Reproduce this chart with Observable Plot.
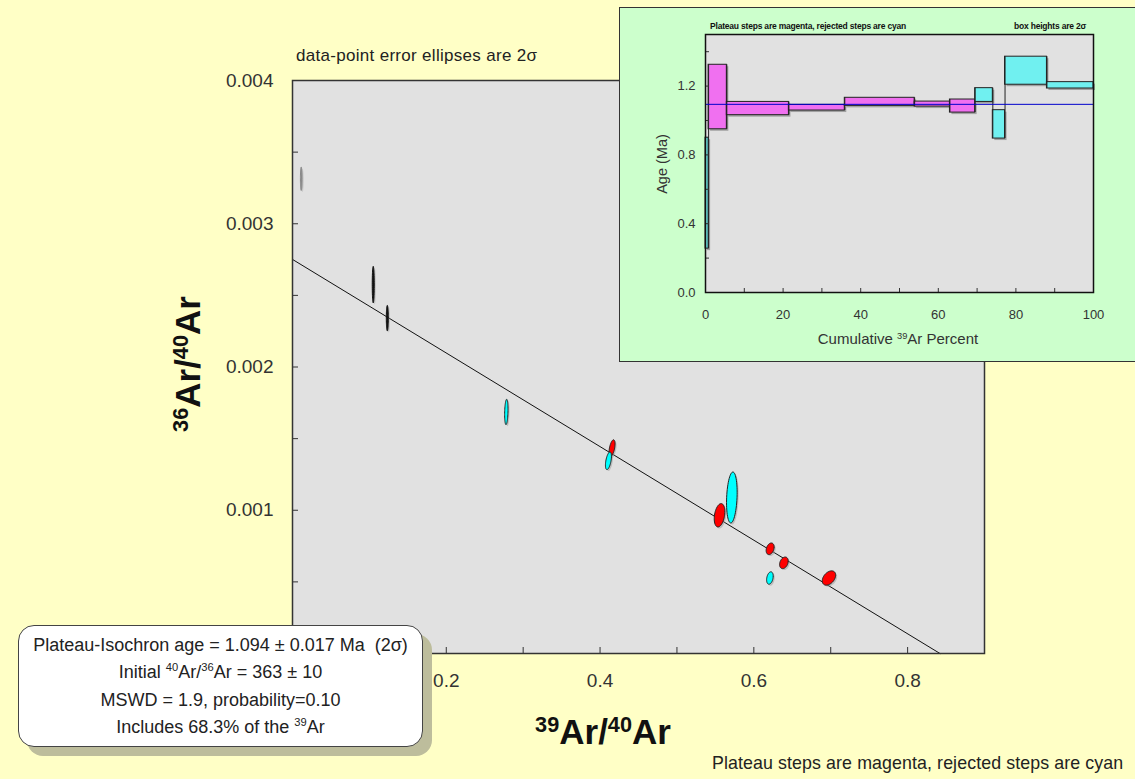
<!DOCTYPE html>
<html>
<head>
<meta charset="utf-8">
<script src="https://cdn.jsdelivr.net/npm/d3@7"></script>
<script src="https://cdn.jsdelivr.net/npm/@observablehq/plot@0.6"></script>
<style>
  html, body { margin: 0; padding: 0; }
  body { width: 1135px; height: 779px; position: relative; overflow: hidden; background: #FFFFC6; font-family: "Liberation Sans", Arial, sans-serif; color: #222; }
  .abs { position: absolute; white-space: nowrap; }
  sup { font-size: 0.62em; vertical-align: 0; position: relative; top: -0.55em; }
  #main { position: absolute; left: 0; top: 0; }
  #inset { position: absolute; left: 619px; top: 7px; width: 518px; height: 355px; background: #CCFFCC; border: 1px solid #333; box-sizing: border-box; }
  #inset .plot { position: absolute; left: 0; top: 0; }
  #box { position: absolute; left: 18px; top: 625px; width: 405px; height: 122px; background: #fff; border: 1.5px solid #444; border-radius: 16px; box-sizing: border-box; box-shadow: 9px 9px 0 #BDBD9C; text-align: center; font-size: 18px; line-height: 26.5px; padding-top: 6px; color: #222; }
</style>
</head>
<body>
<div id="main"></div>
<div id="inset"></div>
<div class="abs" style="left:296px; top:46px; font-size:17px; letter-spacing:0.3px;">data-point error ellipses are 2σ</div>
<div class="abs" style="left:188px; top:364px; transform: translate(-50%,-50%) rotate(-90deg); font-size:35px; font-weight:bold; color:#111;"><sup>36</sup>Ar/<sup>40</sup>Ar</div>
<div class="abs" style="left:603px; top:732px; transform: translate(-50%,-50%); font-size:35px; font-weight:bold; color:#111;"><sup>39</sup>Ar/<sup>40</sup>Ar</div>
<div class="abs" style="left:712px; top:753px; font-size:17.8px; letter-spacing:0.1px;">Plateau steps are magenta, rejected steps are cyan</div>
<div id="box">
  <div>Plateau-Isochron age = 1.094 ± 0.017 Ma&nbsp; (2σ)</div>
  <div>Initial <sup>40</sup>Ar/<sup>36</sup>Ar = 363 ± 10</div>
  <div>MSWD = 1.9, probability=0.10</div>
  <div>Includes 68.3% of the <sup>39</sup>Ar</div>
</div>
<script>
// ---------- Isochron data (error ellipses, 2σ) ----------
const ellX   = [0.0113, 0.105, 0.1233, 0.2781, 0.4156, 0.4109, 0.5554, 0.5714, 0.6212, 0.6391, 0.6209, 0.6977];
const ellY   = [0.003314, 0.002575, 0.002341, 0.001686, 0.001434, 0.001345, 0.000965, 0.001089, 0.000731, 0.000633, 0.000527, 0.000527];
const ellSX  = [0.0010, 0.0013, 0.0013, 0.0022, 0.0039, 0.0039, 0.0069, 0.0069, 0.0052, 0.0056, 0.0043, 0.0087];
const ellSY  = [0.0000816, 0.000128, 0.0000893, 0.0000886, 0.000058, 0.0000614, 0.0000816, 0.000178, 0.0000405, 0.0000405, 0.0000433, 0.00005];
const ellRho = [0, 0, 0, 0.2, 0.5, 0.5, 0.3, 0.2, 0.3, 0.3, 0.3, 0.4];
const ellType = ["gray", "black", "black", "rejected", "plateau", "rejected", "plateau", "rejected", "plateau", "plateau", "rejected", "plateau"];

// isochron regression line (intercepts)
const isoX = [0, 0.8421];
const isoY = [0.002751, 0];

// axis ticks
const mainXLabels = [0.2, 0.4, 0.6, 0.8];
const mainXTicks = [0.1, 0.2, 0.3, 0.4, 0.5, 0.6, 0.7, 0.8];
const mainYLabels = [0.001, 0.002, 0.003, 0.004];
const mainYTicks = [0.0005, 0.001, 0.0015, 0.002, 0.0025, 0.003, 0.0035];

// ---------- Age spectrum data (inset) ----------
const stepX1 = [0, 0.8, 5.5, 21.5, 35.9, 53.9, 63.0, 69.5, 74.05, 77.2, 88.0];
const stepX2 = [0.8, 5.5, 21.5, 35.9, 53.9, 63.0, 69.5, 74.05, 77.2, 88.0, 100];
const stepLo = [0.255, 0.949, 1.031, 1.058, 1.085, 1.081, 1.046, 1.108, 0.895, 1.208, 1.186];
const stepHi = [0.900, 1.324, 1.108, 1.091, 1.132, 1.110, 1.122, 1.188, 1.060, 1.371, 1.223];
const stepPlateau = [false, true, true, true, true, true, true, false, false, false, false];
const plateauAge = 1.094;
const insetXLabels = [0, 20, 40, 60, 80, 100];
const insetXTicks = [10, 20, 30, 40, 50, 60, 70, 80, 90];
const insetYLabels = [0, 0.4, 0.8, 1.2];
const insetYTicks = [0.2, 0.4, 0.6, 0.8, 1.0, 1.2, 1.4];

// ---------- main chart ----------
const fillOf = {gray: "#888", black: "#111", rejected: "#00FFFF", plateau: "#FF0000"};
const strokeOf = {gray: "#888", black: "#111", rejected: "#222", plateau: "#222"};

function ellipsePoints(i) {
  const pts = [];
  const r = ellRho[i], q = Math.sqrt(1 - r * r);
  for (let k = 0; k < 60; k++) {
    const t = 2 * Math.PI * k / 60;
    pts.push({x: ellX[i] + ellSX[i] * Math.cos(t), y: ellY[i] + ellSY[i] * (r * Math.cos(t) + q * Math.sin(t))});
  }
  return pts;
}

const ellipseMarks = ellX.map((_, i) => Plot.line(ellipsePoints(i), {
  x: "x", y: "y", curve: "linear-closed",
  fill: fillOf[ellType[i]], stroke: strokeOf[ellType[i]], strokeWidth: 1
}));
const ellipseShadows = ellX.map((_, i) => Plot.line(ellipsePoints(i), {
  x: "x", y: "y", curve: "linear-closed", fill: "#999", stroke: "none", dx: 1.5, dy: 1.5, fillOpacity: 0.5
}));

const main = Plot.plot({
  width: 1135, height: 779,
  marginLeft: 292, marginRight: 151, marginTop: 80, marginBottom: 126,
  style: {background: "transparent", fontFamily: "Liberation Sans, Arial, sans-serif", fontSize: "19px", color: "#333"},
  x: {domain: [0, 0.9]},
  y: {domain: [0, 0.004]},
  marks: [
    Plot.frame({fill: "#E1E1E1", stroke: "none"}),
    Plot.axisX({ticks: mainXLabels, tickSize: 0, tickPadding: 20, tickFormat: d3.format(".1f"), label: null}),
    Plot.axisX({ticks: mainXTicks, tickSize: -6, tickFormat: () => "", label: null}),
    Plot.axisY({ticks: mainYLabels, tickSize: 0, tickPadding: 19, tickFormat: d3.format(".3f"), label: null}),
    Plot.axisY({ticks: mainYTicks, tickSize: -6, tickFormat: () => "", label: null}),
    Plot.line({length: isoX.length}, {x: isoX, y: isoY, stroke: "#111", strokeWidth: 1}),
    ...ellipseShadows,
    ...ellipseMarks,
    Plot.frame({stroke: "#333", strokeWidth: 1.5})
  ]
});
document.getElementById("main").appendChild(main);

// ---------- inset ----------
const steps = stepX1.map((x1, i) => ({x1, x2: stepX2[i], lo: stepLo[i], hi: stepHi[i], plateau: stepPlateau[i]}));
const connectors = steps.slice(1).map((s, i) => ({x: s.x1, y1: Math.min(steps[i].lo, s.lo), y2: Math.max(steps[i].hi, s.hi)}));

const inset = Plot.plot({
  width: 516, height: 353,
  marginLeft: 85, marginRight: 43, marginTop: 26, marginBottom: 69,
  style: {background: "transparent", fontFamily: "Liberation Sans, Arial, sans-serif", fontSize: "13px", color: "#333"},
  x: {domain: [0, 100]},
  y: {domain: [0, 1.5]},
  marks: [
    Plot.frame({fill: "#E1E1E1", stroke: "none"}),
    Plot.rect(steps, {x1: "x1", x2: "x2", y1: "lo", y2: "hi", fill: "#777", fillOpacity: 0.6, dx: 2, dy: 2}),
    Plot.rect(steps, {x1: "x1", x2: "x2", y1: "lo", y2: "hi", fill: d => d.plateau ? "#F070F0" : "#70F0F0", stroke: "#222", strokeWidth: 1}),
    Plot.ruleX(connectors, {x: "x", y1: "y1", y2: "y2", stroke: "#222", strokeWidth: 1}),
    Plot.ruleY([plateauAge], {stroke: "#0000CC", strokeWidth: 1}),
    Plot.axisX({ticks: insetXLabels, tickSize: 0, tickPadding: 17, tickFormat: d3.format("d"), label: null}),
    Plot.axisX({ticks: insetXTicks, tickSize: -4, tickFormat: () => "", label: null}),
    Plot.axisY({ticks: insetYLabels, tickSize: 0, tickPadding: 10, tickFormat: d3.format(".1f"), label: null}),
    Plot.axisY({ticks: insetYTicks, tickSize: -4, tickFormat: () => "", label: null}),
    Plot.frame({stroke: "#111", strokeWidth: 1.5})
  ]
});
inset.classList.add("plot");
const insetDiv = document.getElementById("inset");
insetDiv.appendChild(inset);
insetDiv.insertAdjacentHTML("beforeend", `
  <div class="abs" style="left:90px; top:13px; font-size:8.5px; font-weight:bold; letter-spacing:-0.2px; color:#111;">Plateau steps are magenta, rejected steps are cyan</div>
  <div class="abs" style="left:394px; top:13px; font-size:8.5px; font-weight:bold; letter-spacing:-0.2px; color:#111;">box heights are 2σ</div>
  <div class="abs" style="left:42px; top:156px; transform: translate(-50%,-50%) rotate(-90deg); font-size:14.5px; color:#333;">Age (Ma)</div>
  <div class="abs" style="left:278px; top:330px; transform: translate(-50%,-50%); font-size:15px; color:#333;">Cumulative <sup>39</sup>Ar Percent</div>
`);
</script>
</body>
</html>
